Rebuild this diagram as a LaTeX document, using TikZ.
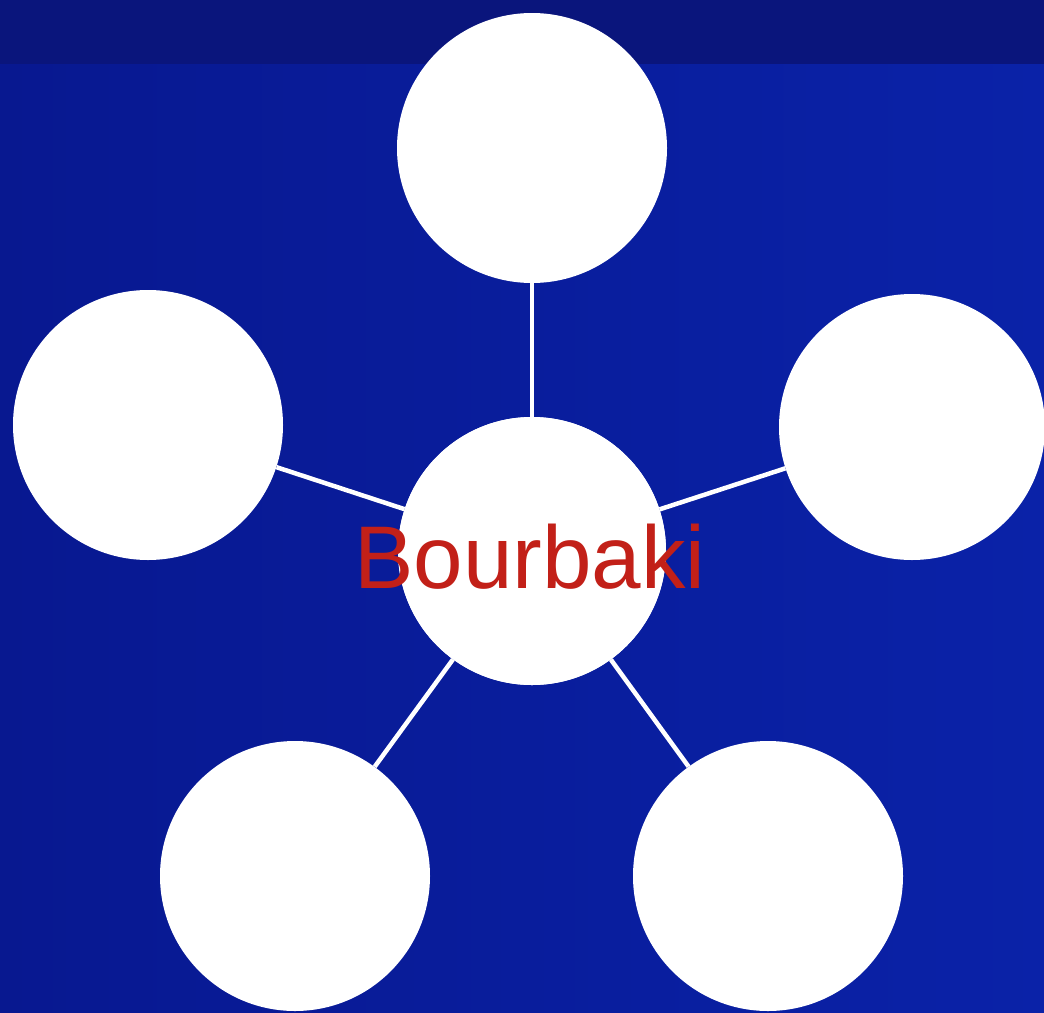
\documentclass[tikz,border=0pt]{standalone}
\usepackage{fontspec}
\setmainfont{Liberation Sans}
\definecolor{bandblue}{HTML}{0A157C}
\definecolor{bgleft}{HTML}{081890}
\definecolor{bgright}{HTML}{0A22A8}
\definecolor{txtred}{HTML}{C22018}
\begin{document}
\begin{tikzpicture}[x=1pt,y=-1pt,
  bubble/.style={circle,fill=white,minimum size=268pt,inner sep=0pt},
  link/.style={white,line width=4.5pt}]
\useasboundingbox (0,0) rectangle (1044,1012);
\shade[left color=bgleft,right color=bgright] (0,0) rectangle (1044,1012);
\fill[bandblue] (0,0) rectangle (1044,64);
\node[bubble] (c) at (532,551) {};
\node[bubble,minimum size=270pt] (t) at (532,148) {};
\node[bubble,minimum size=270pt] (l) at (148,425) {};
\node[bubble,minimum size=266pt] (r) at (912,427) {};
\node[bubble,minimum size=270pt] (bl) at (295,876) {};
\node[bubble,minimum size=270pt] (br) at (768,876) {};
\foreach \n in {t,l,r,bl,br} \draw[link] (c) -- (\n);
\node[bubble] at (c) {};
\node[text=txtred,font=\fontsize{89}{100}\selectfont,anchor=base,inner sep=0pt] (lab) at (530,588) {Bourbaki};
\end{tikzpicture}
\end{document}
